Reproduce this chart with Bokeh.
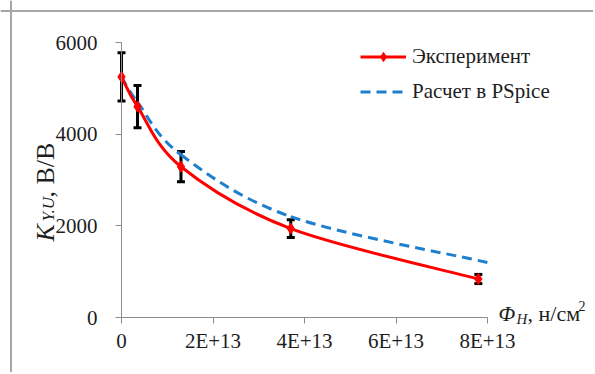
import math
import numpy as np
from bokeh.plotting import figure
from bokeh.models import (ColumnDataSource, Whisker, TeeHead, Label, Legend, LegendItem,
                          FixedTicker, Range1d, Span)
from bokeh.embed import file_html
from bokeh.resources import INLINE

# ---- data ----
EXP_X = [0, 3.5e12, 1.3e13, 3.7e13, 7.8e13]
EXP_Y = [5250, 4600, 3290, 1940, 840]
EXP_ERR = [525, 460, 330, 195, 100]
SIM_X = [0, 3.5e12, 1.3e13, 3.7e13, 8.0e13]
SIM_Y = [5250, 4700, 3550, 2200, 1200]
XTICKS = [0, 20000000000000, 40000000000000, 60000000000000, 80000000000000]
XTICK_LABELS = ["0", "2E+13", "4E+13", "6E+13", "8E+13"]
YTICKS = [0, 2000, 4000, 6000]
LEGEND_LABELS = ["Эксперимент", "Расчет в PSpice"]

FONT = "'Liberation Serif', 'Times New Roman', serif"
TXT = "#1e1e1e"
RED = "#ff0000"
BLUE = "#1f7fcf"

# ---- layout (page pixels; canvas sits at the page origin) ----
W, H = 593, 372
AX_L, AX_R = 121, 487      # x = 0 and x = 8E+13
AX_T, AX_B = 42, 317       # y = 6000 and y = 0 (from top)
X_MAX, Y_MAX = 8e13, 6000
xpp = X_MAX / (AX_R - AX_L)
ypp = Y_MAX / (AX_B - AX_T)


def smooth_segments(xs, ys):
    """Catmull-Rom style Bezier control points (Excel smoothed line)."""
    x = np.asarray(xs, dtype=float)
    y = np.asarray(ys, dtype=float)
    xp = np.concatenate([[x[0]], x, [x[-1]]])
    yp = np.concatenate([[y[0]], y, [y[-1]]])
    n = len(x)
    d = dict(x0=[], y0=[], x1=[], y1=[], cx0=[], cy0=[], cx1=[], cy1=[])
    for i in range(n - 1):
        d["x0"].append(xp[i + 1]); d["y0"].append(yp[i + 1])
        d["x1"].append(xp[i + 2]); d["y1"].append(yp[i + 2])
        d["cx0"].append(xp[i + 1] + (xp[i + 2] - xp[i]) / 6)
        d["cy0"].append(yp[i + 1] + (yp[i + 2] - yp[i]) / 6)
        d["cx1"].append(xp[i + 2] - (xp[i + 3] - xp[i + 1]) / 6)
        d["cy1"].append(yp[i + 2] - (yp[i + 3] - yp[i + 1]) / 6)
    return ColumnDataSource(d)


p = figure(width=W, height=H, output_backend="svg", toolbar_location=None, title=None,
           x_range=Range1d(-AX_L * xpp, X_MAX + (W - AX_R) * xpp),
           y_range=Range1d(-(H - AX_B) * ypp, Y_MAX + AX_T * ypp),
           min_border_left=0, min_border_right=0, min_border_top=0, min_border_bottom=0)
p.outline_line_color = None
p.grid.visible = False
p.background_fill_color = "white"
p.border_fill_color = "white"

for ax in (p.xaxis[0], p.yaxis[0]):
    ax.fixed_location = 0
    ax.axis_line_color = "#8c8c8c"
    ax.axis_line_width = 1
    ax.major_tick_line_color = "#8c8c8c"
    ax.major_tick_out = 6
    ax.major_tick_in = 0
    ax.minor_tick_line_color = None
    ax.major_label_text_font = FONT
    ax.major_label_text_font_size = "21px"
    ax.major_label_text_color = TXT

p.xaxis[0].bounds = (0, X_MAX)
p.xaxis[0].ticker = FixedTicker(ticks=XTICKS)
p.xaxis[0].major_label_overrides = {t: l for t, l in zip(XTICKS, XTICK_LABELS)}
p.xaxis[0].major_label_standoff = 5
p.yaxis[0].bounds = (0, Y_MAX)
p.yaxis[0].ticker = FixedTicker(ticks=YTICKS)
p.yaxis[0].major_label_standoff = 18

# chart-area border (top and left edges)
p.add_layout(Span(location=10.5, location_units="screen", dimension="height",
                  line_color="#a6a6a6", line_width=2))
p.add_layout(Span(location=H - 10.5, location_units="screen", dimension="width",
                  line_color="#a6a6a6", line_width=2))

# simulated (blue dashed, smooth)
sim_r = p.bezier(x0="x0", y0="y0", x1="x1", y1="y1", cx0="cx0", cy0="cy0", cx1="cx1", cy1="cy1",
                 source=smooth_segments(SIM_X, SIM_Y), line_color=BLUE, line_width=3,
                 line_dash="10 6")

# experiment (red smooth)
exp_r = p.bezier(x0="x0", y0="y0", x1="x1", y1="y1", cx0="cx0", cy0="cy0", cx1="cx1", cy1="cy1",
                 source=smooth_segments(EXP_X, EXP_Y), line_color=RED, line_width=3)

# error bars
err_src = ColumnDataSource(dict(
    x=EXP_X,
    upper=[y + e for y, e in zip(EXP_Y, EXP_ERR)],
    lower=[y - e for y, e in zip(EXP_Y, EXP_ERR)],
))
p.add_layout(Whisker(source=err_src, base="x", upper="upper", lower="lower",
                     line_color="black", line_width=3,
                     upper_head=TeeHead(size=8, line_width=3, line_color="black"),
                     lower_head=TeeHead(size=8, line_width=3, line_color="black")))

pts = p.scatter(EXP_X, EXP_Y, marker="diamond", size=11, fill_color=RED, line_color=RED)

legend = Legend(items=[LegendItem(label=LEGEND_LABELS[0], renderers=[exp_r, pts]),
                       LegendItem(label=LEGEND_LABELS[1], renderers=[sim_r])],
                location=(360, H - 104), orientation="vertical",
                glyph_width=46, glyph_height=23, spacing=10, padding=0, margin=0,
                label_standoff=6, label_text_font=FONT, label_text_font_size="21px",
                label_text_color=TXT, border_line_color=None, background_fill_alpha=0)
p.add_layout(legend, "center")


def lab(x, y_page, text, size, italic=False, angle=0.0):
    p.add_layout(Label(x=x, y=H - y_page, x_units="screen", y_units="screen", text=text,
                       angle=angle, text_font=FONT,
                       text_font_style="italic" if italic else "normal",
                       text_font_size=size, text_color=TXT, text_align="left",
                       text_baseline="alphabetic"))


# y axis label: K_{Y.U}, В/В (rotated)
lab(45, 241, "K", "26px", True, math.pi / 2)
lab(48, 221, "Y.U", "17px", True, math.pi / 2)
lab(45, 197, ", В/В", "26px", False, math.pi / 2)

# x axis label: Φ_H, н/см²
lab(498, 313, "Φ", "22px", True)
lab(516, 318, "H", "15px", True)
lab(527, 313, ", н/см", "22px")
lab(578, 305, "2", "14px")

open("out.html", "w").write(file_html(p, INLINE))
